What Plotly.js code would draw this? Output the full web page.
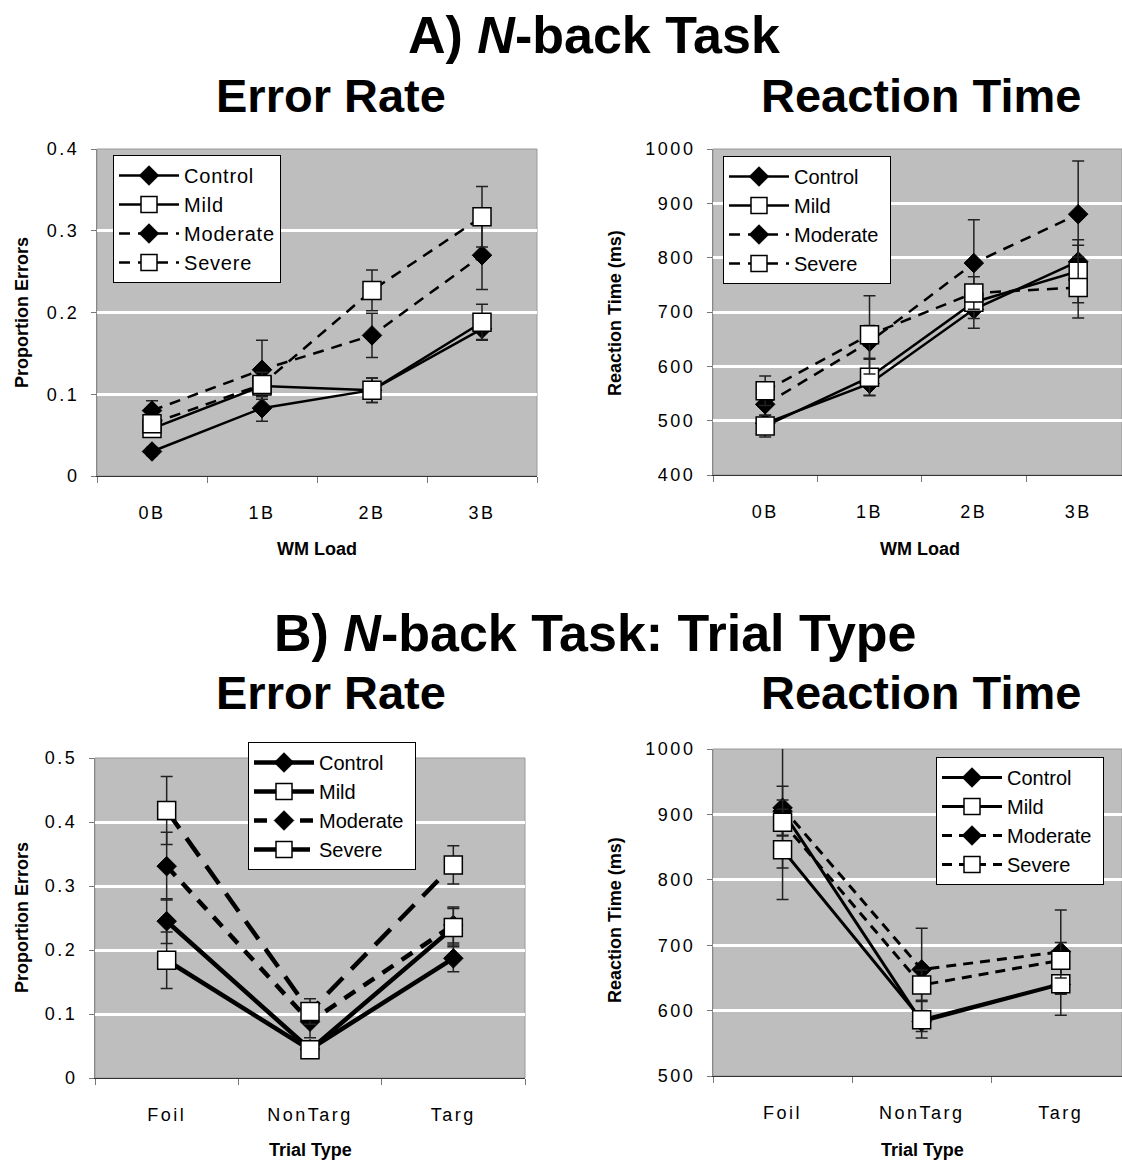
<!DOCTYPE html>
<html>
<head>
<meta charset="utf-8">
<script src="https://cdn.plot.ly/plotly-3.0.1.min.js"></script>
<style>
  html, body { margin: 0; padding: 0; background: #fff; }
  #chart { width: 1122px; height: 1161px; }
  .xtick text, .ytick text, .x2tick text, .y2tick text,
  .x3tick text, .y3tick text, .x4tick text, .y4tick text { letter-spacing: 2.5px; }
  .legendtext { letter-spacing: 0.8px; }
</style>
</head>
<body>
<div id="chart"></div>
<script>
// ---------- Data ----------
const loads = ['0B', '1B', '2B', '3B'];
const groups = ['Control', 'Mild', 'Moderate', 'Severe'];

// A) Error rate by WM load
const errControl  = [0.030, 0.083, 0.105, 0.180];
const errMild     = [0.058, 0.110, 0.105, 0.188];
const errModerate = [0.080, 0.130, 0.172, 0.270];
const errSevere   = [0.064, 0.112, 0.227, 0.317];
const errControlSE  = [0.005, 0.016, 0.015, 0.013];
const errMildSE     = [0.010, 0.012, 0.015, 0.022];
const errModerateSE = [0.012, 0.036, 0.027, 0.042];
const errSevereSE   = [0.008, 0.015, 0.025, 0.037];

// A) Reaction time by WM load
const rtControl  = [495, 568, 705, 793];
const rtMild     = [490, 580, 718, 775];
const rtModerate = [530, 645, 790, 880];
const rtSevere   = [555, 658, 735, 745];
const rtControlSE  = [15, 22, 35, 30];
const rtMildSE     = [20, 33, 30, 58];
const rtModerateSE = [25, 30, 80, 98];
const rtSevereSE   = [27, 72, 30, 56];

// B) Error rate by trial type
const trialTypes = ['Foil', 'NonTarg', 'Targ'];
const trErrControl  = [0.245, 0.045, 0.187];
const trErrMild     = [0.184, 0.044, 0.235];
const trErrModerate = [0.331, 0.088, 0.239];
const trErrSevere   = [0.418, 0.104, 0.333];
const trErrControlSE  = [0.035, 0.006, 0.021];
const trErrMildSE     = [0.044, 0.006, 0.030];
const trErrModerateSE = [0.053, 0.025, 0.028];
const trErrSevereSE   = [0.053, 0.020, 0.030];

// B) Reaction time by trial type
const trRtControl  = [905, 583, 640];
const trRtMild     = [846, 586, 641];
const trRtModerate = [910, 663, 690];
const trRtSevere   = [888, 639, 677];
const trRtControlSE  = [38, 15, 15];
const trRtMildSE     = [76, 28, 48];
const trRtModerateSE = [92, 63, 64];
const trRtSevereSE   = [20, 23, 27];

// ---------- Styling helpers ----------
const FONT = 'Liberation Sans, Arial, sans-serif';
const diamond = {symbol: 'diamond', color: '#000', size: 15, line: {color: '#000', width: 1}};
const square = {symbol: 'square', color: '#fff', size: 18, line: {color: '#000', width: 1.5}};

function mk(name, x, y, se, xa, ya, leg, isSquare, dash, width, rank, dashPat) {
  return {
    type: 'scatter', mode: 'lines+markers', name: name, x: x, y: y,
    xaxis: xa, yaxis: ya, legend: leg, legendrank: rank,
    line: {color: '#000', width: width, dash: dash ? dashPat : 'solid'},
    marker: isSquare ? square : diamond,
    error_y: {type: 'data', array: se, visible: true, color: '#222', thickness: 1.5, width: 6},
    cliponaxis: false
  };
}

function panel(xs, vals, ses, xa, ya, leg, width, dashPats) {
  // draw order: Control, Moderate, Mild, Severe ; legend order via rank
  return [
    mk(groups[0], xs, vals[0], ses[0], xa, ya, leg, false, false, width, 1, null),
    mk(groups[2], xs, vals[2], ses[2], xa, ya, leg, false, true, width, 3, dashPats[0]),
    mk(groups[1], xs, vals[1], ses[1], xa, ya, leg, true, false, width, 2, null),
    mk(groups[3], xs, vals[3], ses[3], xa, ya, leg, true, true, width, 4, dashPats[1])
  ];
}

const traces = [].concat(
  panel(loads, [errControl, errMild, errModerate, errSevere],
        [errControlSE, errMildSE, errModerateSE, errSevereSE], 'x', 'y', 'legend', 2.5, ['11px,8px', '11px,8px']),
  panel(loads, [rtControl, rtMild, rtModerate, rtSevere],
        [rtControlSE, rtMildSE, rtModerateSE, rtSevereSE], 'x2', 'y2', 'legend2', 2.5, ['11px,8px', '11px,8px']),
  panel(trialTypes, [trErrControl, trErrMild, trErrModerate, trErrSevere],
        [trErrControlSE, trErrMildSE, trErrModerateSE, trErrSevereSE], 'x3', 'y3', 'legend3', 4.5, ['13px,10px', '22px,12px']),
  panel(trialTypes, [trRtControl, trRtMild, trRtModerate, trRtSevere],
        [trRtControlSE, trRtMildSE, trRtModerateSE, trRtSevereSE], 'x4', 'y4', 'legend4', 3, ['10px,7px', '10px,7px'])
);

const W = 1122, H = 1161;
const px = v => v / W;
const py = v => 1 - v / H;

function xax(domain, range, anchor) {
  return {
    domain: domain, range: range, anchor: anchor, type: 'category',
    showgrid: false, zeroline: false, showline: true, linecolor: '#333', linewidth: 1,
    ticks: 'outside', tickson: 'boundaries', ticklen: 6, tickcolor: '#777',
    ticklabelstandoff: 20,
    tickfont: {family: FONT, size: 18, color: '#000'}, fixedrange: true
  };
}
function yax(domain, range, dtick, anchor) {
  return {
    domain: domain, range: range, dtick: dtick, anchor: anchor,
    showgrid: true, gridcolor: '#ffffff', gridwidth: 3, zeroline: false,
    showline: true, linecolor: '#888', linewidth: 1,
    ticks: 'outside', ticklen: 5, tickcolor: '#777',
    ticklabelstandoff: 8,
    tickfont: {family: FONT, size: 18, color: '#000'}, fixedrange: true
  };
}

function legendAt(x, y) {
  return {
    x: px(x), y: py(y), xanchor: 'left', yanchor: 'top',
    bgcolor: '#fff', bordercolor: '#000', borderwidth: 1,
    font: {family: FONT, size: 20, color: '#000'},
    itemwidth: 60, tracegroupgap: 0, traceorder: 'normal'
  };
}

const dom = {
  aX: [px(97), px(537)], aY: [py(476), py(149)],
  bX: [px(713), 1], bY: [py(475), py(149)],
  cX: [px(95), px(525)], cY: [py(1078), py(758)],
  dX: [px(713), 1], dY: [py(1076), py(749)]
};

function border(xd, yd) {
  return {type: 'rect', xref: 'paper', yref: 'paper', x0: xd[0], x1: xd[1], y0: yd[0], y1: yd[1],
          line: {color: '#999', width: 1}, fillcolor: 'rgba(0,0,0,0)', layer: 'below'};
}

function ann(text, x, y, size, rot) {
  return {text: text, x: px(x), y: py(y), xref: 'paper', yref: 'paper', showarrow: false,
          xanchor: 'center', yanchor: 'middle', textangle: rot || 0,
          font: {family: FONT, size: size, color: '#000', weight: 'bold'}};
}

const layout = {
  width: W, height: H, margin: {l: 0, r: 0, t: 0, b: 0},
  paper_bgcolor: '#fff', plot_bgcolor: '#bebebe',
  font: {family: FONT, color: '#000'},
  showlegend: true,
  xaxis: xax(dom.aX, [-0.5, 3.5], 'y'),
  yaxis: yax(dom.aY, [0, 0.4], 0.1, 'x'),
  xaxis2: xax(dom.bX, [-0.5, 3.42], 'y2'),
  yaxis2: yax(dom.bY, [400, 1000], 100, 'x2'),
  xaxis3: xax(dom.cX, [-0.5, 2.5], 'y3'),
  yaxis3: yax(dom.cY, [0, 0.5], 0.1, 'x3'),
  xaxis4: xax(dom.dX, [-0.5, 2.44], 'y4'),
  yaxis4: yax(dom.dY, [500, 1000], 100, 'x4'),
  legend: legendAt(113, 155),
  legend2: legendAt(723, 156),
  legend3: legendAt(248, 742),
  legend4: legendAt(936, 757),
  shapes: [border(dom.aX, dom.aY), border(dom.bX, dom.bY), border(dom.cX, dom.cY), border(dom.dX, dom.dY)],
  annotations: [
    ann('A) <i>N</i>-back Task', 594, 35, 52),
    ann('Error Rate', 331, 95, 47),
    ann('Reaction Time', 921, 95, 47),
    ann('B) <i>N</i>-back Task: Trial Type', 595, 633, 52),
    ann('Error Rate', 331, 693, 47),
    ann('Reaction Time', 921, 693, 47),
    ann('Proportion Errors', 22, 313, 18, -90),
    ann('Reaction Time (ms)', 615, 313, 18, -90),
    ann('Proportion Errors', 22, 918, 18, -90),
    ann('Reaction Time (ms)', 615, 920, 18, -90),
    ann('WM Load', 317, 549, 18),
    ann('WM Load', 920, 549, 18),
    ann('Trial Type', 310, 1150, 18),
    ann('Trial Type', 922, 1150, 18)
  ]
};

Plotly.newPlot('chart', traces, layout, {displayModeBar: false, staticPlot: true});
</script>
</body>
</html>
